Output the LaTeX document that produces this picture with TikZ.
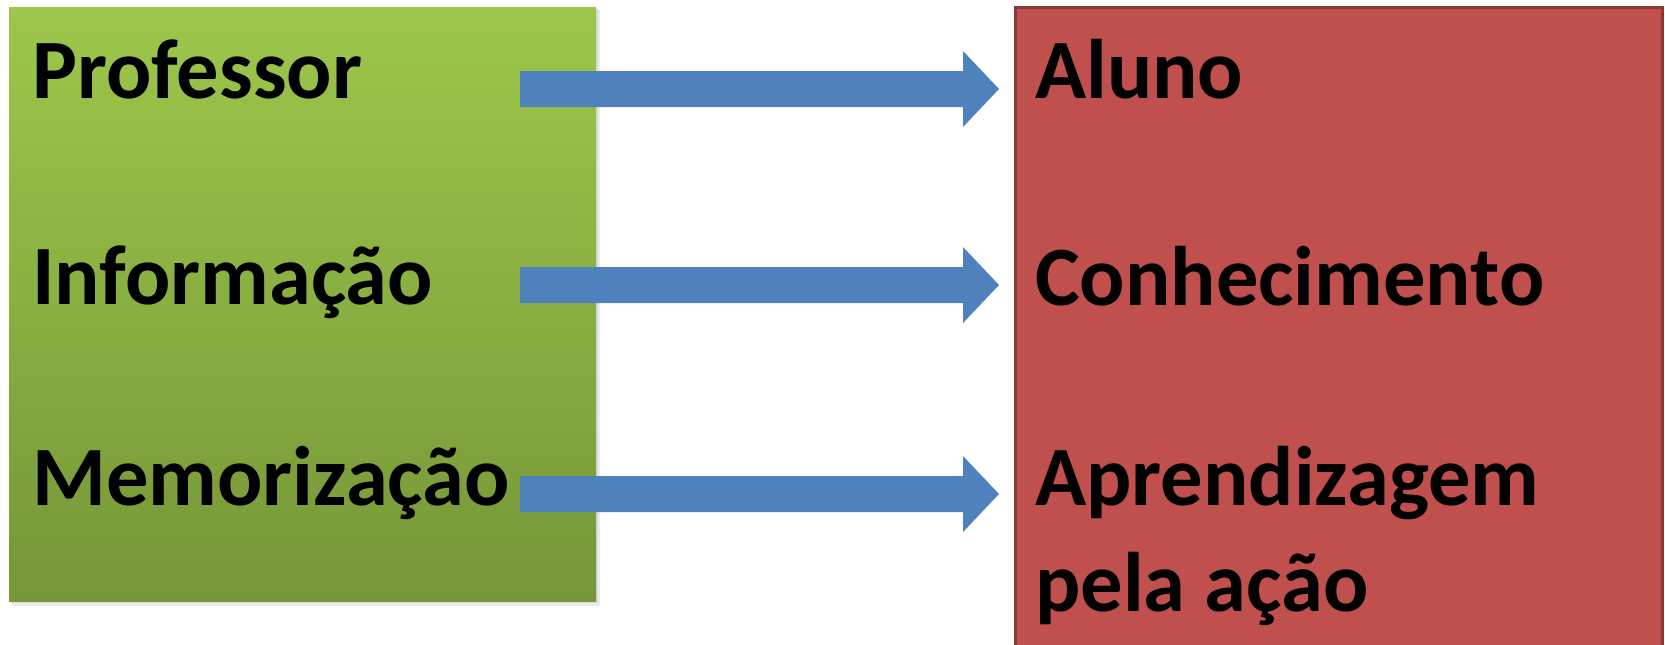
\documentclass[tikz,border=0pt]{standalone}
\usepackage{fontspec}
\setmainfont{Carlito}
\usetikzlibrary{calc}
\definecolor{gtop}{RGB}{157,199,75}
\definecolor{gbot}{RGB}{118,150,56}
\definecolor{redfill}{RGB}{192,80,77}
\definecolor{redline}{RGB}{140,56,54}
\definecolor{arrowblue}{RGB}{79,129,189}
\tikzset{
  lbl/.style={anchor=base west, inner sep=0pt, font=\fontsize{84.5}{105}\selectfont\bfseries, align=left},
  bluearrow/.style={fill=arrowblue, draw=none}
}
\newcommand{\fatarrow}[2]{%
  \fill[bluearrow] ($(#1)+(0,-18)$) -- ($(#2)+(-36,-18)$) -- ($(#2)+(-36,-38)$) -- (#2)
    -- ($(#2)+(-36,38)$) -- ($(#2)+(-36,18)$) -- ($(#1)+(0,18)$) -- cycle;}
\begin{document}
\begin{tikzpicture}[x=1pt,y=-1pt]
\useasboundingbox (0,0) rectangle (1665,645);
% shadow of green box
\fill[black!8] (12,10) rectangle (600,606);
\fill[black!14] (11,9) rectangle (598,603);
% green box
\shade[top color=gtop, bottom color=gbot] (9,7) rectangle (596,601);
% red box
\filldraw[fill=redfill, draw=redline, line width=3pt] (1015.5,7) rectangle (1662,650);
% labels
\node[lbl] (prof) at (32,98) {Professor};
\node[lbl] (info) at (32,304) {Informação};
\node[lbl] (memo) at (32,505) {Memorização};
\node[lbl] (aluno) at (1035,98) {Aluno};
\node[lbl] (conh) at (1035,305) {Conhecimento};
\node[lbl] (apre) at (1035,505) {Aprendizagem};
\node[lbl] (pela) at (1035,611) {pela ação};
% arrow ends
\coordinate (s1) at (520,89);
\coordinate (e1) at (999,89);
\coordinate (s2) at (520,285);
\coordinate (e2) at (999,285);
\coordinate (s3) at (520,494);
\coordinate (e3) at (999,494);
\fatarrow{s1}{e1}
\fatarrow{s2}{e2}
\fatarrow{s3}{e3}
\end{tikzpicture}
\end{document}
